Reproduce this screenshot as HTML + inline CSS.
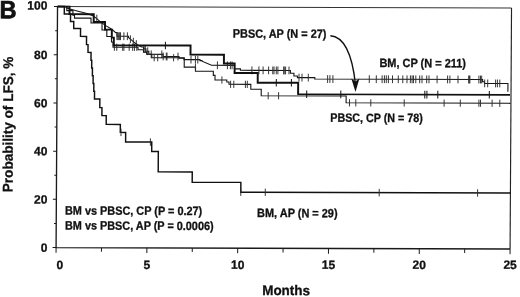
<!DOCTYPE html>
<html><head><meta charset="utf-8"><title>Figure B</title>
<style>
html,body{margin:0;padding:0;background:#fff;}
body{width:520px;height:297px;overflow:hidden;font-family:"Liberation Sans",sans-serif;}
svg{display:block;will-change:transform;}
text{font-family:"Liberation Sans",sans-serif;font-weight:bold;fill:#111;stroke:#111;stroke-width:0.3px;text-rendering:geometricPrecision;}
</style></head><body>
<svg width="520" height="297" viewBox="0 0 520 297">
<rect width="520" height="297" fill="#fff"/>
<g fill="none" stroke="#1a1a1a" stroke-linecap="butt" stroke-linejoin="miter" transform="matrix(1 0.0032 -0.006 1 0.7668 -0.9082)">
<path d="M56.8 7.3H510.8" stroke-width="1" stroke="#333"/>
<path d="M510.8 7.3V248.3" stroke-width="1.15" stroke="#222"/>
<path d="M56.8 7.3V248.3H510.8" stroke-width="1.35"/>
<path d="M56.8 248.3v5.2M102.2 248.3v4.1M147.6 248.3v5.2M193.0 248.3v4.1M238.4 248.3v5.2M283.8 248.3v4.1M329.2 248.3v5.2M374.6 248.3v4.1M420.0 248.3v5.2M465.4 248.3v4.1M510.8 248.3v5.2" stroke-width="1"/>
<path d="M56.8 248.3h-3.5M56.8 224.2h-2.2M56.8 200.1h-3.5M56.8 176.0h-2.2M56.8 151.9h-3.5M56.8 127.8h-2.2M56.8 103.7h-3.5M56.8 79.6h-2.2M56.8 55.5h-3.5M56.8 31.4h-2.2M56.8 7.3h-3.5" stroke-width="1"/>
<path d="M56.80 7.30H66.09V8.70L69.29 9.69L77.30 11.86L85.32 13.94L92.33 16.31L96.15 19.20L99.67 22.39L105.59 26.47L111.51 30.05L115.13 33.14H116.45V36.74H127.96V37.90L129.87 39.69L133.39 42.58L136.30 44.97L141.12 47.46H143.03V49.25H145.44V51.64H148.36V54.73H162.57V56.89H178.59V58.64H183.59V59.92H199.60V60.87H201.60V61.46L211.13 65.53H234.15V69.06H240.06V70.44H290.07V73.18H293.59V75.97H297.10V77.56H314.51V78.90H482.32V81.16H484.23V82.76H507.68V91.08" stroke-width="1.1" stroke="#151515"/>
<path d="M116.45 32.84v7.80M117.35 32.84v7.80M118.25 32.84v7.80M119.15 32.84v7.80M119.95 32.84v7.80M123.35 32.84v7.80M126.85 32.84v7.80M96.14 15.29v7.80M129.87 35.79v7.80M132.79 38.19v7.80M135.80 40.66v7.80M143.63 45.35v7.80M144.84 45.35v7.80M147.25 47.74v7.80M150.76 50.83v7.80M161.36 50.83v7.80M162.77 52.99v7.80M165.87 52.99v7.80M166.57 52.99v7.80M177.57 52.99v7.80M190.59 56.02v7.80M195.00 56.02v7.80M197.40 56.02v7.80M217.03 61.63v7.80M227.03 61.63v7.80M230.04 61.63v7.80M231.74 61.63v7.80M251.56 66.54v7.80M258.56 66.54v7.80M262.76 66.54v7.80M268.26 66.54v7.80M272.46 66.54v7.80M273.66 66.54v7.80M275.96 66.54v7.80M277.56 66.54v7.80M283.36 66.54v7.80M285.25 66.54v7.80M288.65 66.54v7.80M283.85 66.54v7.80M298.70 73.66v7.80M301.70 73.66v7.80M308.00 73.66v7.80M327.31 75.00v7.80M329.61 75.00v7.80M332.61 75.00v7.80M369.01 75.00v7.80M376.01 75.00v7.80M381.81 75.00v7.80M384.11 75.00v7.80M386.01 75.00v7.80M388.11 75.00v7.80M392.21 75.00v7.80M398.01 75.00v7.80M402.50 75.00v7.80M406.70 75.00v7.80M410.10 75.00v7.80M411.80 75.00v7.80M413.20 75.00v7.80M415.50 75.00v7.80M419.40 75.00v7.80M421.70 75.00v7.80M426.40 75.00v7.80M428.70 75.00v7.80M436.80 75.00v7.80M447.30 75.00v7.80M449.60 75.00v7.80M457.70 75.00v7.80M468.40 75.00v7.80M469.00 75.00v7.80M469.60 75.00v7.80M478.60 75.00v7.80M480.20 75.00v7.80M481.40 75.00v7.80M484.42 78.86v7.80M487.43 78.86v7.80M495.33 78.86v7.80M497.13 78.86v7.80M499.53 78.86v7.80" stroke-width="0.95" stroke="#2c2c2c"/>
<path d="M56.80 7.30H66.10V11.30H72.23V15.98H73.85V18.77H90.37V23.62H101.42V30.58H106.26V37.07H110.99V42.55H112.52V47.75H137.53V50.17H143.05V52.75H146.16V54.74H151.38V58.12H183.84V67.42H195.16V71.48H212.99V75.63H214.71V80.22H226.53V82.18H228.74V84.48H250.57V89.31H261.01V95.77H345.95V102.60H509.85V102.08" stroke-width="1.1" stroke="#151515"/>
<path d="M113.92 44.15v7.20M116.32 44.15v7.20M122.22 44.15v7.20M123.42 44.15v7.20M128.72 44.15v7.20M132.22 44.15v7.20M134.02 44.15v7.20M136.32 44.15v7.20M153.78 54.52v7.20M157.28 54.52v7.20M173.19 54.52v7.20M195.04 63.82v7.20M221.62 76.62v7.20M230.34 80.88v7.20M233.54 80.88v7.20M245.14 80.88v7.20M247.04 80.88v7.20M268.01 92.17v7.20M278.41 92.17v7.20M349.35 99.00v7.20M355.65 99.00v7.20M370.65 99.00v7.20M404.05 99.00v7.20M443.95 99.00v7.20M460.15 99.00v7.20M478.75 99.00v7.20M480.35 99.00v7.20M491.95 99.00v7.20M499.65 99.00v7.20" stroke-width="0.95" stroke="#2c2c2c"/>
<path d="M56.80 7.30H68.82V14.79H93.07V22.61H104.41V30.17H111.26V38.15H113.31V45.85H190.06V54.90H223.52V63.69H234.27V73.16H257.43V82.78H297.90V94.15" stroke-width="1.95" stroke="#111"/>
<path d="M297.10 94.15H509.79" stroke-width="1.55" stroke="#111"/>
<path d="M164.91 42.05v7.60M276.03 78.98v7.60M291.13 78.98v7.60M306.50 90.35v7.60M340.60 90.35v7.60M424.60 90.35v7.60M426.70 90.35v7.60M437.60 90.35v7.60M489.10 90.35v7.60" stroke-width="1" stroke="#111"/>
<path d="M56.80 7.30H63.62V14.70H69.87V22.18H73.11V29.17H79.96V37.05H86.00V45.23H87.55V53.03H90.60V60.82H91.34V68.62H92.09V76.31H92.84V84.11H93.58V91.81H94.33V99.51H99.68V108.19H101.83V116.18H106.18V124.97H120.33V132.92H125.69V142.51H151.84V151.92H158.47V172.20H192.53V182.49H241.19V192.34H510.38V191.47" stroke-width="1.45" stroke="#111"/>
<path d="M121.03 129.22v7.40M150.49 138.81v7.40M241.19 188.64v7.40M265.69 188.64v7.40M379.58 188.64v7.40M477.98 188.64v7.40" stroke-width="0.95" stroke="#2c2c2c"/>
<path d="M329.8 35.6C343.5 36.5 351.5 52 355.2 84" stroke-width="1.4" stroke="#111"/>
</g>
<path d="M355.5 92L351.3 78.6L355.3 81.4L359.4 78.6Z" fill="#111"/>
<text x="-0.4" y="18.3" transform="rotate(0.2 -0.4 18.3)" font-size="25" text-anchor="start" textLength="17.0" lengthAdjust="spacingAndGlyphs" style="stroke-width:0.7px">B</text>
<text x="47.4" y="9.6" transform="rotate(0.2 47.4 9.6)" font-size="12" text-anchor="end">100</text>
<text x="47.4" y="59.0" transform="rotate(0.2 47.4 59.0)" font-size="12" text-anchor="end">80</text>
<text x="47.4" y="107.2" transform="rotate(0.2 47.4 107.2)" font-size="12" text-anchor="end">60</text>
<text x="47.4" y="155.4" transform="rotate(0.2 47.4 155.4)" font-size="12" text-anchor="end">40</text>
<text x="47.4" y="203.6" transform="rotate(0.2 47.4 203.6)" font-size="12" text-anchor="end">20</text>
<text x="47.4" y="251.8" transform="rotate(0.2 47.4 251.8)" font-size="12" text-anchor="end">0</text>
<text x="59.9" y="268.9" transform="rotate(0.2 59.9 268.9)" font-size="12" text-anchor="middle">0</text>
<text x="146.9" y="268.9" transform="rotate(0.2 146.9 268.9)" font-size="12" text-anchor="middle">5</text>
<text x="237.7" y="268.9" transform="rotate(0.2 237.7 268.9)" font-size="12" text-anchor="middle">10</text>
<text x="328.5" y="268.9" transform="rotate(0.2 328.5 268.9)" font-size="12" text-anchor="middle">15</text>
<text x="419.3" y="268.9" transform="rotate(0.2 419.3 268.9)" font-size="12" text-anchor="middle">20</text>
<text x="510.1" y="268.9" transform="rotate(0.2 510.1 268.9)" font-size="12" text-anchor="middle">25</text>
<text x="262.2" y="295.0" transform="rotate(0.2 262.2 295.0)" font-size="13.8" text-anchor="start" textLength="47.8" lengthAdjust="spacingAndGlyphs">Months</text>
<text transform="translate(12.6,192.2) rotate(-89.8)" font-size="14" textLength="135.5" lengthAdjust="spacingAndGlyphs">Probability of LFS, %</text>
<text x="232.8" y="37.6" transform="rotate(0.2 232.8 37.6)" font-size="12" text-anchor="start" textLength="93.6" lengthAdjust="spacingAndGlyphs">PBSC, AP (N = 27)</text>
<text x="379.4" y="67.0" transform="rotate(0.2 379.4 67.0)" font-size="12" text-anchor="start" textLength="86.6" lengthAdjust="spacingAndGlyphs">BM, CP (N = 211)</text>
<text x="330.3" y="121.8" transform="rotate(0.2 330.3 121.8)" font-size="12" text-anchor="start" textLength="92.5" lengthAdjust="spacingAndGlyphs">PBSC, CP (N = 78)</text>
<text x="257.1" y="217.0" transform="rotate(0.2 257.1 217.0)" font-size="12" text-anchor="start" textLength="80.5" lengthAdjust="spacingAndGlyphs">BM, AP (N = 29)</text>
<text x="65.0" y="214.6" transform="rotate(0.2 65.0 214.6)" font-size="12" text-anchor="start" textLength="137.2" lengthAdjust="spacingAndGlyphs">BM vs PBSC, CP (P = 0.27)</text>
<text x="65.0" y="229.5" transform="rotate(0.2 65.0 229.5)" font-size="12" text-anchor="start" textLength="148.6" lengthAdjust="spacingAndGlyphs">BM vs PBSC, AP (P = 0.0006)</text>
</svg>
</body></html>
